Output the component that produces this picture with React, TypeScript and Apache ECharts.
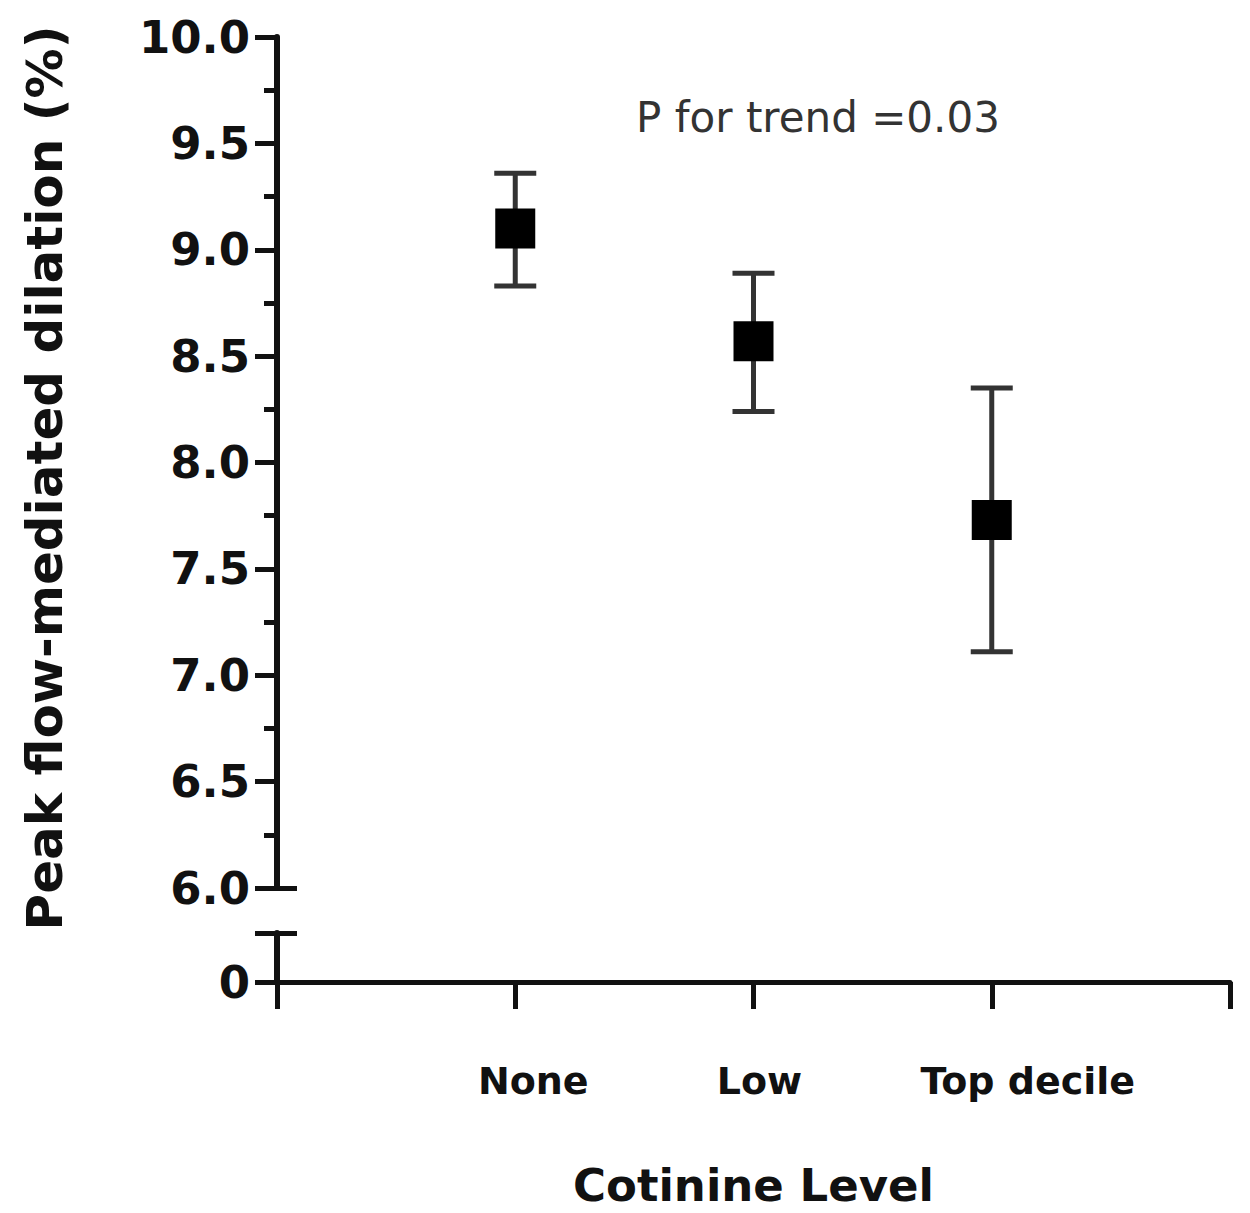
import React, { useEffect, useRef } from "react";
import * as echarts from "echarts";

const categories = ["None", "Low", "Top decile"];
const means = [9.1, 8.57, 7.73];
const upperCI = [9.36, 8.89, 8.35];
const lowerCI = [8.83, 8.24, 7.11];
const yTicksUpper = { min: 6, max: 10, step: 0.5 };
const annotation = "P for trend =0.03";
const xTitle = "Cotinine Level";
const yTitle = "Peak flow-mediated dilation (%)";

// visual nudges of the category labels (px to the right of their tick)
const labelNudge = [18, 6, 36];

const FONT = "DejaVu Sans";
const INK = "#111";

export default function App() {
  const ref = useRef<HTMLDivElement>(null);
  useEffect(() => {
    if (!ref.current) return;
    const chart = echarts.init(ref.current, undefined, { renderer: "svg" });
    const rich: any = {};
    labelNudge.forEach((d, i) => {
      rich["c" + i] = {
        fontSize: 38,
        fontWeight: "bold",
        fontFamily: FONT,
        color: INK,
        padding: [0, 0, 0, 2 * d],
      };
    });
    const option: any = {
      animation: false,
      backgroundColor: "#fff",
      grid: [
        { left: 277, top: 37, width: 953, height: 851, outerBoundsMode: "none", containLabel: false },
        { left: 277, top: 933, width: 953, height: 49, outerBoundsMode: "none", containLabel: false },
      ],
      xAxis: [
        { gridIndex: 0, type: "value", min: -1, max: 3, show: false },
        {
          gridIndex: 1,
          type: "value",
          min: -1,
          max: 3,
          interval: 1,
          splitLine: { show: false },
          axisLine: { show: true, onZero: false, lineStyle: { color: INK, width: 5 } },
          axisTick: { show: true, length: 27, lineStyle: { color: INK, width: 5 } },
          axisLabel: {
            margin: 80,
            fontSize: 38,
            fontWeight: "bold",
            fontFamily: FONT,
            color: INK,
            formatter: (v: number) =>
              categories[v] !== undefined ? `{c${v}|${categories[v]}}` : "",
            rich,
          },
          name: xTitle,
          nameLocation: "middle",
          nameGap: 181,
          nameTextStyle: { fontSize: 45, fontWeight: "bold", fontFamily: FONT, color: INK },
        },
      ],
      yAxis: [
        {
          gridIndex: 0,
          type: "value",
          position: "left",
          min: yTicksUpper.min,
          max: yTicksUpper.max,
          interval: yTicksUpper.step,
          splitLine: { show: false },
          axisLine: { show: true, onZero: false, lineStyle: { color: INK, width: 6 } },
          axisTick: { show: true, length: 22, lineStyle: { color: INK, width: 5 } },
          minorTick: { show: true, splitNumber: 2, length: 13, lineStyle: { color: INK, width: 5 } },
          minorSplitLine: { show: false },
          axisLabel: {
            margin: 27,
            fontSize: 45,
            fontWeight: "bold",
            fontFamily: FONT,
            color: INK,
            formatter: (v: number) => v.toFixed(1),
          },
        },
        {
          gridIndex: 0,
          type: "value",
          position: "left",
          min: yTicksUpper.min,
          max: yTicksUpper.max,
          splitLine: { show: false },
          axisLine: { show: false, onZero: false },
          axisTick: {
            show: true,
            inside: true,
            length: 20,
            customValues: [yTicksUpper.min],
            lineStyle: { color: INK, width: 5 },
          },
          axisLabel: { show: false },
        },
        {
          gridIndex: 1,
          type: "value",
          position: "left",
          min: 0,
          max: 1,
          interval: 1,
          splitLine: { show: false },
          axisLine: { show: true, onZero: false, lineStyle: { color: INK, width: 6 } },
          axisTick: { show: true, length: 22, lineStyle: { color: INK, width: 5 } },
          axisLabel: {
            margin: 27,
            fontSize: 45,
            fontWeight: "bold",
            fontFamily: FONT,
            color: INK,
            formatter: (v: number) => (v === 0 ? "0" : ""),
          },
        },
        {
          gridIndex: 1,
          type: "value",
          position: "left",
          min: 0,
          max: 1,
          interval: 1,
          splitLine: { show: false },
          axisLine: { show: false, onZero: false },
          axisTick: { show: true, inside: true, length: 20, lineStyle: { color: INK, width: 5 } },
          axisLabel: { show: false },
        },
      ],
      series: [
        {
          type: "custom",
          xAxisIndex: 0,
          yAxisIndex: 0,
          data: categories.map((_, i) => [i, lowerCI[i], upperCI[i]]),
          encode: { x: 0, y: [1, 2] },
          renderItem: (params: any, api: any) => {
            const x = api.value(0);
            const lo = api.coord([x, api.value(1)]);
            const hi = api.coord([x, api.value(2)]);
            const hw = 21;
            const style = { stroke: "#333", lineWidth: 5 };
            return {
              type: "group",
              children: [
                { type: "line", shape: { x1: lo[0], y1: lo[1], x2: hi[0], y2: hi[1] }, style },
                { type: "line", shape: { x1: lo[0] - hw, y1: lo[1], x2: lo[0] + hw, y2: lo[1] }, style },
                { type: "line", shape: { x1: hi[0] - hw, y1: hi[1], x2: hi[0] + hw, y2: hi[1] }, style },
              ],
            };
          },
          z: 2,
        },
        {
          type: "scatter",
          xAxisIndex: 0,
          yAxisIndex: 0,
          symbol: "rect",
          symbolSize: 40,
          itemStyle: { color: "#000", opacity: 1 },
          data: categories.map((_, i) => [i, means[i]]),
          z: 3,
        },
      ],
      graphic: [
        {
          type: "text",
          x: 45,
          y: 478,
          rotation: Math.PI / 2,
          style: {
            text: yTitle,
            fontSize: 50,
            fontWeight: "bold",
            fontFamily: FONT,
            fill: INK,
            align: "center",
            verticalAlign: "middle",
          },
        },
        {
          type: "text",
          x: 818,
          y: 117,
          style: {
            text: annotation,
            fontSize: 42,
            fontFamily: FONT,
            fill: "#333",
            align: "center",
            verticalAlign: "middle",
          },
        },
      ],
    };
    chart.setOption(option);
    return () => chart.dispose();
  }, []);
  return (
    <div
      ref={ref}
      style={{ position: "fixed", left: 0, top: 0, width: 1250, height: 1213 }}
    />
  );
}
